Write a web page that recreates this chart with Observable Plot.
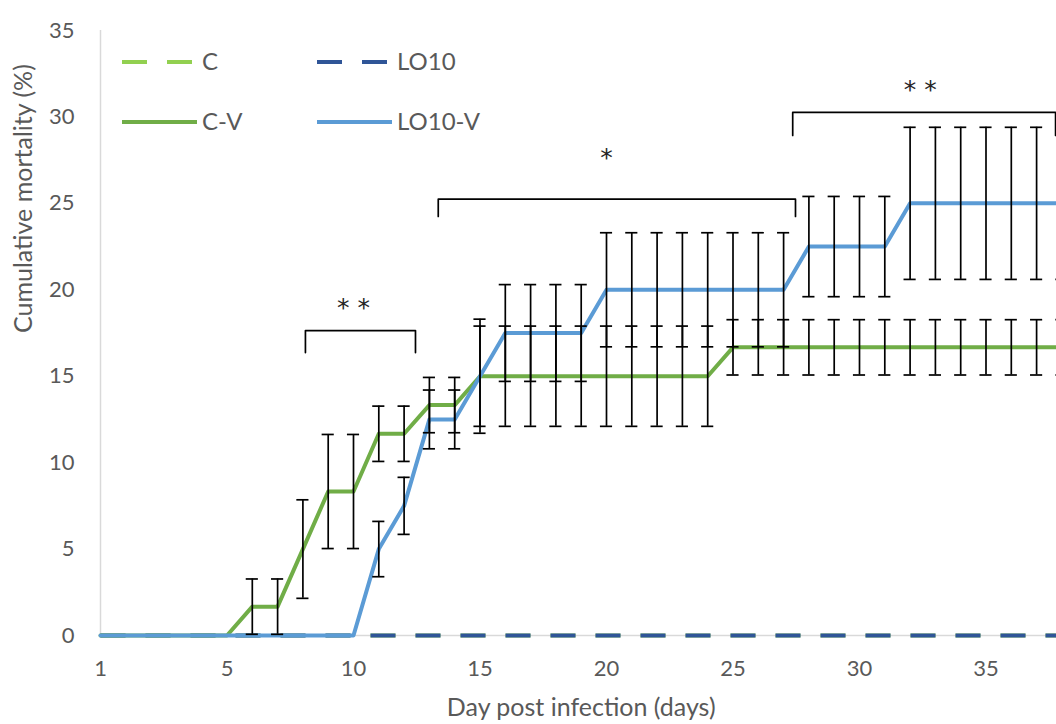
<!DOCTYPE html>
<html>
<head>
<meta charset="utf-8">
<script src="https://cdn.jsdelivr.net/npm/d3@7"></script>
<script src="https://cdn.jsdelivr.net/npm/@observablehq/plot@0.6"></script>
<style>
  body { margin: 0; background: #fff; }
  #wrap { position: relative; width: 1056px; height: 724px; overflow: hidden; }
  #wrap > svg { position: absolute; left: 0; top: 0; }
</style>
</head>
<body>
<div id="wrap"></div>
<script>
// ---- data ----
const days = [0,1,2,3,4,5,6,7,8,9,10,11,12,13,14,15,16,17,18,19,20,21,22,23,24,25,26,27,28,29,30,31,32,33,34,35,36,37,38];
const xTickValues = [0,5,10,15,20,25,30,35];
const xTickLabels = ["1","5","10","15","20","25","30","35"];
const yTicks = [0,5,10,15,20,25,30,35];

const seriesNames  = ["C","LO10","C-V","LO10-V"];
const seriesColors = ["#92D050","#2F5597","#70AD47","#5B9BD5"];
const seriesDashed = [true,true,false,false];

const cVals    = [0,0,0,0,0,0,0,0,0,0,0,0,0,0,0,0,0,0,0,0,0,0,0,0,0,0,0,0,0,0,0,0,0,0,0,0,0,0,0];
const lo10Vals = [0,0,0,0,0,0,0,0,0,0,0,0,0,0,0,0,0,0,0,0,0,0,0,0,0,0,0,0,0,0,0,0,0,0,0,0,0,0,0];
const cvVals   = [0,0,0,0,0,0,1.67,1.67,5,8.33,8.33,11.67,11.67,13.33,13.33,15,15,15,15,15,15,15,15,15,15,16.67,16.67,16.67,16.67,16.67,16.67,16.67,16.67,16.67,16.67,16.67,16.67,16.67,16.67];
const cvErr    = [0,0,0,0,0,0,1.6,1.6,2.85,3.3,3.3,1.6,1.6,1.6,1.6,2.9,2.9,2.9,2.9,2.9,2.9,2.9,2.9,2.9,2.9,1.6,1.6,1.6,1.6,1.6,1.6,1.6,1.6,1.6,1.6,1.6,1.6,1.6,1.6];
const lvVals   = [0,0,0,0,0,0,0,0,0,0,0,5,7.5,12.5,12.5,15,17.5,17.5,17.5,17.5,20,20,20,20,20,20,20,20,22.5,22.5,22.5,22.5,25,25,25,25,25,25,25];
const lvErr    = [0,0,0,0,0,0,0,0,0,0,0,1.6,1.65,1.7,1.7,3.3,2.8,2.8,2.8,2.8,3.3,3.3,3.3,3.3,3.3,3.3,3.3,3.3,2.9,2.9,2.9,2.9,4.4,4.4,4.4,4.4,4.4,4.4,4.4];

// significance brackets (data units)
const sigX1      = [8.1, 13.35, 27.36];
const sigX2      = [12.45, 27.47, 37.75];
const sigTop     = [17.64, 25.24, 30.26];
const sigBottom  = [16.37, 24.24, 28.93];
const sigLabel   = ["* *", "*", "* *"];
const sigLabelX  = [10.0, 20.0, 32.4];
const sigLabelY  = [19.3, 28.0, 31.9];

const xTitle = "Day post infection (days)";
const yTitle = "Cumulative mortality (%)";

// ---- build tables ----
const seriesVals = [cVals, lo10Vals, cvVals, lvVals];
const lineRows = seriesNames.map((name, s) => days.map((d, i) => ({series: name, day: d, value: seriesVals[s][i]})));
const errRows = [];
[[cvVals, cvErr, "C-V"], [lvVals, lvErr, "LO10-V"]].forEach(([v, e, name]) => {
  days.forEach((d, i) => { if (e[i] > 0) errRows.push({series: name, day: d, lo: v[i] - e[i], hi: v[i] + e[i]}); });
});
const bracketRows = [];
sigX1.forEach((x1, k) => {
  bracketRows.push({id: k, day: x1, value: sigBottom[k]});
  bracketRows.push({id: k, day: x1, value: sigTop[k]});
  bracketRows.push({id: k, day: sigX2[k], value: sigTop[k]});
  bracketRows.push({id: k, day: sigX2[k], value: sigBottom[k]});
});
const sigRows = sigLabel.map((t, k) => ({t, day: sigLabelX[k], value: sigLabelY[k]}));

const FONT = "Lato, 'Open Sans', sans-serif";
const GREY = "#595959";
const capHalf = 0.24;

const lineMarks = seriesNames.map((name, s) => Plot.line(lineRows[s], {
  x: "day", y: "value",
  stroke: seriesColors[s], strokeWidth: 4,
  strokeDasharray: seriesDashed[s] ? "25,20" : null,
  strokeLinecap: seriesDashed[s] ? "butt" : "round",
  strokeLinejoin: "round"
}));

const chart = Plot.plot({
  width: 1056, height: 724,
  marginLeft: 100, marginRight: -5.4, marginTop: 30, marginBottom: 89,
  x: {domain: [0, 38]},
  y: {domain: [0, 35]},
  style: {fontFamily: FONT, fontSize: "22px", color: GREY, background: "transparent", overflow: "visible"},
  marks: [
    Plot.axisX({ticks: xTickValues, tickFormat: d => xTickLabels[xTickValues.indexOf(d)], tickSize: 0, tickPadding: 25, label: null, fontSize: 22, fill: GREY}),
    Plot.axisY({ticks: yTicks, tickSize: 0, tickPadding: 26, label: null, fontSize: 22, fill: GREY}),
    Plot.ruleY([0], {stroke: "#d9d9d9", strokeWidth: 1.5}),
    Plot.ruleX([0], {y1: 0, y2: 35, stroke: "#d9d9d9", strokeWidth: 1.5}),
    ...lineMarks,
    Plot.ruleX(errRows, {x: "day", y1: "lo", y2: "hi", stroke: "#000", strokeWidth: 1.7}),
    Plot.ruleY(errRows, {y: "hi", x1: d => d.day - capHalf, x2: d => d.day + capHalf, stroke: "#000", strokeWidth: 1.7}),
    Plot.ruleY(errRows, {y: "lo", x1: d => d.day - capHalf, x2: d => d.day + capHalf, stroke: "#000", strokeWidth: 1.7}),
    Plot.line(bracketRows, {x: "day", y: "value", z: "id", stroke: "#000", strokeWidth: 1.7, strokeLinejoin: "round"}),
    Plot.text(sigRows, {x: "day", y: "value", text: "t", fontSize: 25, fill: "#262626", fontFamily: "'DejaVu Sans', sans-serif", dy: 6}),
    Plot.text([xTitle], {frameAnchor: "bottom", dy: 80, fontSize: 25, fill: GREY}),
    Plot.text([yTitle], {frameAnchor: "left", dx: -77, rotate: -90, fontSize: 25, fill: GREY})
  ]
});
const wrap = document.getElementById("wrap");
wrap.appendChild(chart);

// ---- legend overlay ----
const legendPos = [{x: 122, y: 62}, {x: 317, y: 62}, {x: 122, y: 122}, {x: 317, y: 122}];
const leg = d3.select(wrap).append("svg").attr("width", 1056).attr("height", 724).style("pointer-events", "none");
seriesNames.forEach((name, s) => {
  const p = legendPos[s];
  const g = leg.append("g").attr("transform", `translate(${p.x},${p.y})`);
  g.append("line").attr("x1", 0).attr("x2", seriesDashed[s] ? 70 : 75).attr("y1", 0).attr("y2", 0)
    .attr("stroke", seriesColors[s]).attr("stroke-width", 4)
    .attr("stroke-dasharray", seriesDashed[s] ? "25,20" : null);
  g.append("text").attr("x", 80).attr("y", 0).attr("dy", "0.35em")
    .attr("fill", GREY).attr("font-family", FONT).attr("font-size", 24).text(name);
});
</script>
</body>
</html>
